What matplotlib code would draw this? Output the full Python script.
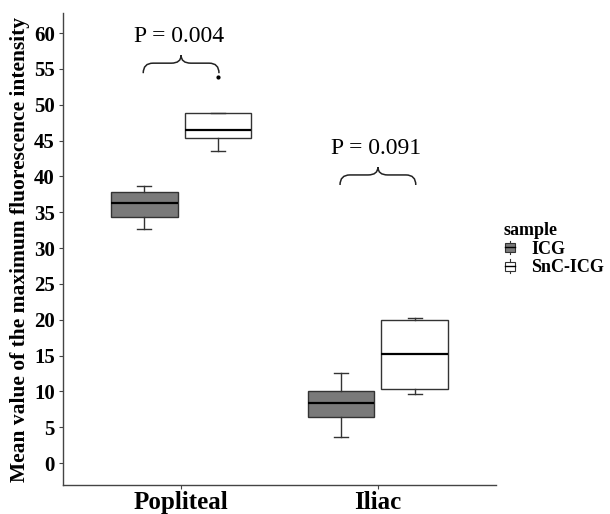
import matplotlib
matplotlib.use("Agg")
import matplotlib.pyplot as plt
from matplotlib.path import Path
from matplotlib.patches import PathPatch, Rectangle
from matplotlib.lines import Line2D
from matplotlib.legend_handler import HandlerBase

plt.rcParams["font.family"] = ["Liberation Serif", "DejaVu Serif"]

# summary statistics
sites = ["Popliteal", "Iliac"]
samples = ["ICG", "SnC-ICG"]
fills = ["#7a7a7a", "#ffffff"]

whislo = {"ICG": [32.7, 3.6], "SnC-ICG": [43.5, 9.7]}
q1 = {"ICG": [34.4, 6.4], "SnC-ICG": [45.4, 10.3]}
med = {"ICG": [36.3, 8.4], "SnC-ICG": [46.5, 15.2]}
q3 = {"ICG": [37.8, 10.1], "SnC-ICG": [48.8, 19.9]}
whishi = {"ICG": [38.6, 12.5], "SnC-ICG": [48.8, 20.2]}
fliers = {"ICG": [[], []], "SnC-ICG": [[53.8], []]}

# p-value annotations: label and brace bottom per site
p_labels = ["P = 0.004", "P = 0.091"]
brace_y = [54.4, 38.8]

fig = plt.figure(figsize=(6.1, 5.14), dpi=100)
ax = fig.add_axes([0.1033, 0.0564, 0.7098, 0.9183])

dodge = 0.1875
box_w = 0.34
edge = "#333333"

for j, s in enumerate(samples):
    stats = []
    for i in range(len(sites)):
        stats.append(dict(med=med[s][i], q1=q1[s][i], q3=q3[s][i],
                          whislo=whislo[s][i], whishi=whishi[s][i],
                          fliers=fliers[s][i]))
    pos = [i + 1 + (j - 0.5) * 2 * dodge for i in range(len(sites))]
    ax.bxp(stats, positions=pos, widths=box_w, patch_artist=True,
           showfliers=True, capwidths=0.07,
           boxprops=dict(facecolor=fills[j], edgecolor=edge, linewidth=1.0),
           medianprops=dict(color="black", linewidth=1.6),
           whiskerprops=dict(color=edge, linewidth=1.0),
           capprops=dict(color=edge, linewidth=1.0),
           flierprops=dict(marker="o", markersize=2, markerfacecolor="black",
                           markeredgecolor="black"))


def draw_brace(ax, x0, x1, y0, h=1.4, tip=1.1):
    xm = (x0 + x1) / 2
    r = 0.05
    yh = y0 + h
    verts = [(x0, y0), (x0, yh), (x0 + r, yh),
             (xm - r, yh), (xm, yh), (xm, yh + tip),
             (xm, yh), (xm + r, yh),
             (x1 - r, yh), (x1, yh), (x1, y0)]
    codes = [Path.MOVETO, Path.CURVE3, Path.CURVE3,
             Path.LINETO, Path.CURVE3, Path.CURVE3,
             Path.CURVE3, Path.CURVE3,
             Path.LINETO, Path.CURVE3, Path.CURVE3]
    ax.add_patch(PathPatch(Path(verts, codes), facecolor="none",
                           edgecolor="#222222", linewidth=1.1))
    return xm, yh + tip


for i, (lab, yb) in enumerate(zip(p_labels, brace_y)):
    x0 = i + 1 - dodge - 0.005
    x1 = i + 1 + dodge + 0.005
    xm, ytop = draw_brace(ax, x0, x1, yb)
    ax.text(xm - 0.01, ytop + 2.6, lab, ha="center", va="center", fontsize=17)

ax.set_xlim(0.4, 2.6)
ax.set_ylim(-3.07, 62.8)
ax.set_xticks([1, 2])
ax.set_xticklabels(sites, fontsize=18, fontweight="bold")
ax.set_yticks(range(0, 61, 5))
ax.set_yticklabels([str(v) for v in range(0, 61, 5)], fontsize=15, fontweight="bold")
ax.set_ylabel("Mean value of the maximum fluorescence intensity",
              fontsize=15.5, fontweight="bold", labelpad=3)
ax.tick_params(axis="both", length=3, color="#444444", pad=3)
ax.tick_params(axis="x", pad=1)
for side in ["top", "right"]:
    ax.spines[side].set_visible(False)
for side in ["left", "bottom"]:
    ax.spines[side].set_color("#444444")
    ax.spines[side].set_linewidth(1.0)


class BoxKey(HandlerBase):
    def create_artists(self, legend, orig_handle, xdescent, ydescent,
                       width, height, fontsize, trans):
        fc = orig_handle.get_facecolor()
        cx = width / 2 - xdescent
        bw = width * 0.8
        rect = Rectangle((cx - bw / 2, -ydescent + height * 0.2), bw, height * 0.6,
                         facecolor=fc, edgecolor=edge, linewidth=0.8, transform=trans)
        midl = Line2D([cx - bw / 2, cx + bw / 2], [-ydescent + height * 0.5] * 2,
                      color="black", linewidth=1.0, transform=trans)
        w1 = Line2D([cx, cx], [-ydescent + height * 0.05, -ydescent + height * 0.2],
                    color=edge, linewidth=0.8, transform=trans)
        w2 = Line2D([cx, cx], [-ydescent + height * 0.8, -ydescent + height * 0.95],
                    color=edge, linewidth=0.8, transform=trans)
        return [rect, midl, w1, w2]


handles = [Rectangle((0, 0), 1, 1, facecolor=c) for c in fills]
leg = fig.legend(handles, samples, title="sample", loc="upper left",
                 bbox_to_anchor=(0.826, 0.568), frameon=False,
                 handler_map={Rectangle: BoxKey()}, handlelength=0.7,
                 handleheight=0.9, handletextpad=0.8, labelspacing=0.05,
                 borderaxespad=0, borderpad=0,
                 prop=dict(size=13, weight="bold"),
                 title_fontproperties=dict(size=13, weight="bold"))
leg._legend_box.align = "left"

fig.savefig("out.png", dpi=100)
